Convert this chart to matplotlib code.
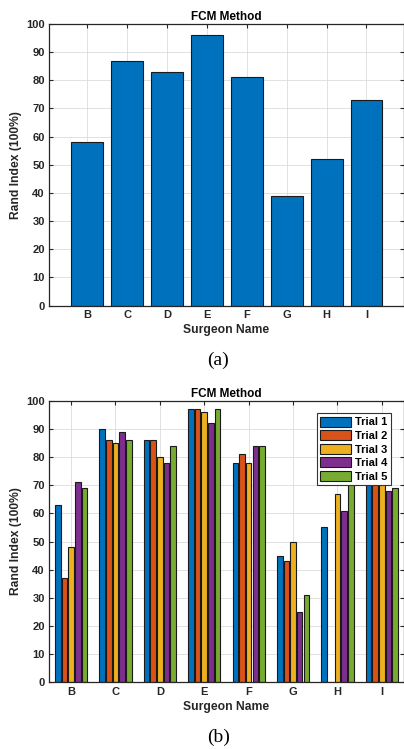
import numpy as np
import matplotlib.pyplot as plt

plt.rcParams['font.family'] = ['Liberation Sans', 'DejaVu Sans']

surgeons = ['B', 'C', 'D', 'E', 'F', 'G', 'H', 'I']
rand_index = [58, 87, 83, 96, 81, 39, 52, 73]

trial_names = ['Trial 1', 'Trial 2', 'Trial 3', 'Trial 4', 'Trial 5']
trial_1 = [63, 90, 86, 97, 78, 45, 55, 76]
trial_2 = [37, 86, 86, 97, 81, 43, 0, 75]
trial_3 = [48, 85, 80, 96, 78, 50, 67, 74]
trial_4 = [71, 89, 78, 92, 84, 25, 61, 68]
trial_5 = [69, 86, 84, 97, 84, 31, 78, 69]
trials = [trial_1, trial_2, trial_3, trial_4, trial_5]

cores = ['#0072BD', '#D95319', '#EDB120', '#7E2F8E', '#77AC30']
eixo = '#262626'

def ajusta_eixo(ax, xmin, xmax):
  ax.set_xlim(xmin, xmax)
  ax.set_ylim(0, 100)
  ax.set_yticks(np.arange(0, 101, 10))
  ax.set_xticks(np.arange(1, len(surgeons) + 1))
  ax.set_xticklabels(surgeons)
  ax.tick_params(direction='in', top=True, right=True, length=3,
                 labelsize=8, colors=eixo, width=0.8, pad=3)
  for lab in ax.get_xticklabels() + ax.get_yticklabels():
    lab.set_fontweight('bold')
  ax.grid(True, color='#dcdcdc', linewidth=0.6)
  ax.set_axisbelow(True)
  for s in ax.spines.values():
    s.set_color(eixo)
    s.set_linewidth(0.9)
  ax.set_title('FCM Method', fontsize=8.5, fontweight='bold', color='black', pad=3)
  ax.set_xlabel('Surgeon Name', fontsize=8.7, fontweight='bold', color=eixo, labelpad=3)
  ax.set_ylabel('Rand Index (100%)', fontsize=8.7, fontweight='bold', color=eixo, labelpad=3)

fig = plt.figure(figsize=(4.04, 7.49), dpi=100)

# (a)
ax1 = fig.add_axes([0.121, 0.592, 0.878, 0.376])
x = np.arange(1, len(surgeons) + 1)
ax1.bar(x, rand_index, width=0.8, color=cores[0], edgecolor='#1a1a1a', linewidth=0.8)
ajusta_eixo(ax1, 0.04, 8.93)
fig.text(0.54, 0.519, '(a)', ha='center', va='center', fontsize=14, family='Liberation Serif')

# (b)
ax2 = fig.add_axes([0.121, 0.089, 0.878, 0.376])
passo = 0.15
for i, vals in enumerate(trials):
  ax2.bar(x + (i - 2) * passo, vals, width=0.125, color=cores[i],
          edgecolor='#1a1a1a', linewidth=0.8, label=trial_names[i])
ajusta_eixo(ax2, 0.5, 8.49)
leg = ax2.legend(loc='upper right', bbox_to_anchor=(0.979, 0.975), fontsize=8,
                 handlelength=2.8, handleheight=1.0, handletextpad=0.35,
                 labelspacing=0.25, borderpad=0.3, fancybox=False, framealpha=1)
leg.get_frame().set_edgecolor('#333333')
leg.get_frame().set_linewidth(0.8)
for t in leg.get_texts():
  t.set_fontweight('bold')
fig.text(0.54, 0.016, '(b)', ha='center', va='center', fontsize=14, family='Liberation Serif')

plt.savefig('out.png', dpi=100)
